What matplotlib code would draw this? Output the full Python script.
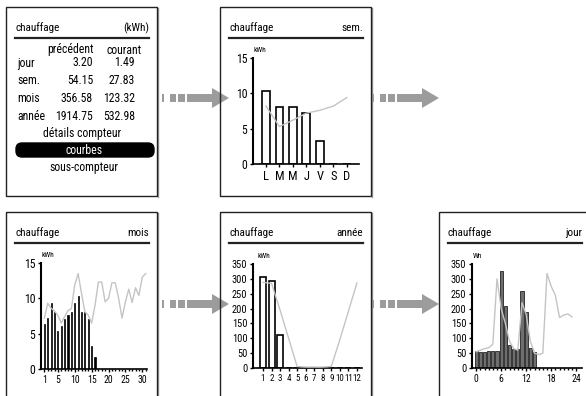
import matplotlib
matplotlib.use('Agg')
import matplotlib.pyplot as plt
from matplotlib.patches import Rectangle, Polygon, FancyBboxPatch

plt.rcParams['font.family'] = ['Roboto Condensed', 'Sofia Sans Condensed', 'Liberation Sans', 'DejaVu Sans']

# tableau récapitulatif
rows = ['jour', 'sem.', 'mois', 'année']
precedent = ['3.20', '54.15', '356.58', '1914.75']
courant = ['1.49', '27.83', '123.32', '532.98']
menu = ['détails compteur', 'courbes', 'sous-compteur']

# semaine (kWh)
week_labels = ['L', 'M', 'M', 'J', 'V', 'S', 'D']
week_bars = [10.3, 8.1, 8.1, 7.2, 3.2, 0, 0]
week_ref = [8.2, 5.3, 6.2, 7.2, 7.6, 8.2, 9.4]

# mois (kWh)
month_days = list(range(1, 32))
month_bars = [6.3, 7.2, 9.3, 8.1, 5.4, 6.1, 7.1, 7.7, 8.0, 9.3, 10.3, 8.1, 8.0, 7.1, 3.2, 1.7,
              0, 0, 0, 0, 0, 0, 0, 0, 0, 0, 0, 0, 0, 0, 0]
month_ref = [7.2, 9.3, 8.6, 8.2, 7.6, 6.5, 7.4, 8.3, 8.5, 11.9, 13.5, 10.7, 8.1, 7.6, 6.5, 9.0,
             12.3, 12.3, 9.5, 10.0, 12.2, 12.2, 10.0, 7.2, 9.5, 11.3, 9.4, 11.5, 10.4, 13.0, 13.5]

# année (kWh)
year_months = list(range(1, 13))
year_bars = [305, 292, 112, 0, 0, 0, 0, 0, 0, 0, 0, 0]
year_ref = [288, 285, 195, 100, 5, 3, 3, 3, 5, 95, 190, 286]

# jour (Wh)
day_hours = list(range(24))
day_bars = [56, 54, 54, 58, 58, 58, 325, 210, 78, 65, 65, 260, 188, 68, 55,
            0, 0, 0, 0, 0, 0, 0, 0, 0]
day_ref = [55, 60, 65, 68, 80, 300, 200, 150, 90, 65, 60, 220, 180, 90, 50, 45, 50,
           318, 275, 245, 170, 178, 182, 172]

W, H = 586, 396
grey = '#9c9c9c'
refc = '#c4c4c4'

fig = plt.figure(figsize=(W / 100, H / 100), dpi=100)
bg = fig.add_axes([0, 0, 1, 1])
bg.set_xlim(0, W)
bg.set_ylim(H, 0)
bg.axis('off')


def panel(x0, y0, title, right, w=151, h=189):
    bg.add_patch(Rectangle((x0, y0), w, h, fill=False, edgecolor='#222222', lw=1, zorder=6))
    bg.plot([x0 + w + 1, x0 + w + 1], [y0 + 1, y0 + h + 1], color='#999999', lw=1)
    bg.text(x0 + 9, y0 + 21, title, fontsize=8, ha='left', va='center')
    bg.text(x0 + 143, y0 + 21, right, fontsize=8, ha='right', va='center')
    bg.plot([x0 + 9, x0 + 143], [y0 + 31, y0 + 31], color='#222222', lw=1.6)


def arrow(x0, yc):
    for a, b in [(0, 2), (8, 14), (16, 23), (25, 51)]:
        bg.add_patch(Rectangle((x0 + a, yc - 4), b - a, 8, color=grey, lw=0, zorder=5))
    bg.add_patch(Polygon([(x0 + 50, yc - 10), (x0 + 67, yc), (x0 + 50, yc + 10)],
                         closed=True, color=grey, lw=0, zorder=5))


panel(6, 7, 'chauffage', '(kWh)')
panel(220, 7, 'chauffage', 'sem.')
panel(6, 212, 'chauffage', 'mois', h=200)
panel(220, 212, 'chauffage', 'année', h=200)
panel(439, 212, 'chauffage', 'jour', w=160, h=200)

arrow(162, 98)
arrow(372, 98)
arrow(162, 304)
arrow(372, 304)

# écran récapitulatif
fs = 8.5
bg.text(71, 50, 'précédent', fontsize=fs, ha='center', va='center')
bg.text(124, 50, 'courant', fontsize=fs, ha='center', va='center')
for i, r in enumerate(rows):
    y = 63 + i * 18
    bg.text(17, y, r, fontsize=fs, ha='left', va='center')
    bg.text(93, y, precedent[i], fontsize=fs, ha='right', va='center')
    bg.text(135, y, courant[i], fontsize=fs, ha='right', va='center')
bg.text(82, 134, menu[0], fontsize=fs, ha='center', va='center')
bg.add_patch(FancyBboxPatch((16, 143), 138, 14, boxstyle='round,pad=0,rounding_size=6',
                            facecolor='black', edgecolor='black'))
bg.text(84, 150, menu[1], fontsize=fs, ha='center', va='center', color='white')
bg.text(84, 168, menu[2], fontsize=fs, ha='center', va='center')


def px_ax(l, t, r, b):
    ax = fig.add_axes([l / W, 1 - b / H, (r - l) / W, (b - t) / H])
    ax.set_facecolor('none')
    ax.spines['top'].set_visible(False)
    ax.spines['right'].set_visible(False)
    ax.spines['left'].set_linewidth(1.5)
    ax.spines['bottom'].set_linewidth(1.2)
    ax.tick_params(length=2.5, width=1, pad=1.5, labelsize=8.5)
    ax.tick_params(which='minor', length=1.5, width=1)
    return ax


# semaine
ax = px_ax(253, 58, 359, 164)
xs = list(range(len(week_labels)))
ax.bar(xs, week_bars, width=0.58, color='white', edgecolor='black', lw=1.2, zorder=2)
ax.plot(xs, week_ref, color=refc, lw=1, zorder=3)
ax.set_xlim(-0.96, 6.9)
ax.set_ylim(0, 15)
ax.set_yticks([0, 5, 10, 15])
ax.set_xticks(xs)
ax.set_xticklabels(week_labels, fontsize=9)
bg.text(254, 50, 'kWh', fontsize=5.5, ha='left', va='center')

# mois
ax = px_ax(41, 263, 147, 369)
ax.bar(month_days, month_bars, width=0.35, color='black', edgecolor='black', lw=0.5, zorder=2)
ax.plot(month_days, month_ref, color=refc, lw=1, zorder=3)
ax.set_xlim(0, 31.4)
ax.set_ylim(0, 15)
ax.set_yticks([0, 5, 10, 15])
ax.set_xticks([1, 5, 10, 15, 20, 25, 30])
ax.set_xticks(month_days, minor=True)
ax.tick_params(axis='x', labelsize=7)
bg.text(42, 255, 'kWh', fontsize=5.5, ha='left', va='center')

# année
ax = px_ax(253, 264, 362, 368)
ax.bar(year_months, year_bars, width=0.7, color='white', edgecolor='black', lw=1.2, zorder=2)
ax.plot(year_months, year_ref, color=refc, lw=1, zorder=3)
ax.set_xlim(-0.17, 12.6)
ax.set_ylim(0, 350)
ax.set_yticks(range(0, 351, 50))
ax.set_xticks(year_months)
ax.tick_params(axis='y', labelsize=7.5)
ax.tick_params(axis='x', labelsize=6.5)
bg.text(258, 256, 'kWh', fontsize=5.5, ha='left', va='center')

# jour
ax = px_ax(472, 264, 582, 368)
ax.bar(day_hours, day_bars, width=0.75, color='#6e6e6e', edgecolor='#222222', lw=0.6, zorder=2)
ax.plot(day_hours, day_ref, color=refc, lw=1, zorder=3)
ax.set_xlim(-1, 25.4)
ax.set_ylim(0, 350)
ax.set_yticks(range(0, 351, 50))
ax.set_xticks([0, 6, 12, 18, 24])
ax.set_xticks(range(25), minor=True)
ax.tick_params(axis='y', labelsize=7.5)
ax.tick_params(axis='x', labelsize=7)
bg.text(473, 256, 'Wh', fontsize=5.5, ha='left', va='center')

fig.savefig('out.png', dpi=100)
